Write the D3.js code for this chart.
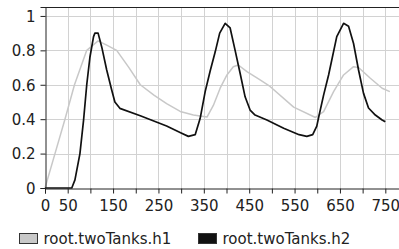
<!DOCTYPE html>
<html>
<head>
<meta charset="utf-8">
<script src="https://cdn.jsdelivr.net/npm/d3@7"></script>
<style>
  body { margin: 0; background: #fff; }
</style>
</head>
<body>
<div id="chart"></div>
<script>
// series values
var h1Time = [0, 22, 44, 65, 92, 117, 136, 158, 185, 210, 240, 268, 298, 327, 357, 371, 386, 401, 415, 426, 445, 474, 496, 548, 596, 614, 636, 658, 680, 691, 717, 743, 760];
var h1Level = [0, 0.2, 0.4, 0.6, 0.8, 0.855, 0.83, 0.8, 0.7, 0.6, 0.54, 0.49, 0.445, 0.424, 0.412, 0.48, 0.58, 0.657, 0.705, 0.715, 0.676, 0.628, 0.59, 0.47, 0.41, 0.444, 0.56, 0.657, 0.705, 0.7, 0.638, 0.58, 0.56];

var h2Time = [0, 59, 66, 77, 85, 92, 99, 107, 110, 117, 125, 136, 147, 154, 165, 210, 268, 300, 316, 331, 342, 353, 364, 375, 385, 397, 408, 419, 430, 441, 452, 463, 489, 526, 560, 577, 590, 599, 603, 614, 625, 643, 658, 669, 680, 691, 702, 713, 728, 743, 750];
var h2Level = [0, 0, 0.047, 0.2, 0.395, 0.6, 0.76, 0.88, 0.9, 0.9, 0.82, 0.686, 0.57, 0.5, 0.463, 0.42, 0.36, 0.32, 0.3, 0.31, 0.405, 0.56, 0.68, 0.79, 0.9, 0.957, 0.93, 0.8, 0.667, 0.53, 0.453, 0.424, 0.395, 0.347, 0.31, 0.3, 0.31, 0.36, 0.41, 0.54, 0.657, 0.88, 0.957, 0.94, 0.84, 0.686, 0.55, 0.465, 0.424, 0.395, 0.385];

var xTicks = d3.range(0, 801, 50);
var xLabels = [0, 50, 150, 250, 350, 450, 550, 650, 750];
var yTicks = [0, 0.2, 0.4, 0.6, 0.8, 1];
var seriesNames = ['root.twoTanks.h1', 'root.twoTanks.h2'];
var seriesColors = ['#c8c8c8', '#111'];

var attrs = {
  svgWidth: 399,
  svgHeight: 249,
  marginLeft: 45,
  marginTop: 7,
  plotBottom: 188,
  plotRight: 408,
  fontFamily: '"DejaVu Sans", Verdana, sans-serif',
  fontSize: 15
};

var x = d3.scaleLinear().domain([0, 800]).range([attrs.marginLeft, attrs.plotRight]);
var y = d3.scaleLinear().domain([0, 1.052]).range([attrs.plotBottom, attrs.marginTop]);

var svg = d3.select('#chart')
  .append('svg')
  .attr('width', attrs.svgWidth)
  .attr('height', attrs.svgHeight)
  .attr('font-family', attrs.fontFamily)
  .attr('font-size', attrs.fontSize);

// grid
var grid = svg.append('g').attr('stroke', '#d2d2d2').attr('stroke-width', 1);
grid.selectAll('.vgrid')
  .data(xTicks.slice(1))
  .enter()
  .append('line')
  .attr('x1', d => Math.round(x(d)) + 0.5)
  .attr('x2', d => Math.round(x(d)) + 0.5)
  .attr('y1', attrs.marginTop)
  .attr('y2', attrs.plotBottom);
grid.selectAll('.hgrid')
  .data(yTicks.slice(1))
  .enter()
  .append('line')
  .attr('y1', d => Math.round(y(d)) + 0.5)
  .attr('y2', d => Math.round(y(d)) + 0.5)
  .attr('x1', attrs.marginLeft)
  .attr('x2', attrs.plotRight);

// series lines
var series = [
  h1Time.map((t, i) => [t, h1Level[i]]),
  h2Time.map((t, i) => [t, h2Level[i]])
];
var line = d3.line().x(d => x(d[0])).y(d => y(d[1]));

svg.selectAll('.series')
  .data(series)
  .enter()
  .append('path')
  .attr('class', 'series')
  .attr('d', line)
  .attr('fill', 'none')
  .attr('stroke', (d, i) => seriesColors[i])
  .attr('stroke-width', (d, i) => i === 0 ? 1.5 : 1.7)
  .attr('stroke-linejoin', 'round');

// frame: top border
svg.append('line')
  .attr('x1', attrs.marginLeft).attr('x2', attrs.plotRight)
  .attr('y1', attrs.marginTop + 0.5).attr('y2', attrs.marginTop + 0.5)
  .attr('stroke', '#222');

// axes
var xAxis = svg.append('g')
  .attr('transform', 'translate(0,' + (attrs.plotBottom + 0.5) + ')')
  .call(d3.axisBottom(x).tickValues(xTicks).tickSize(5).tickFormat(d => xLabels.indexOf(d) >= 0 ? d : ''));
var yAxis = svg.append('g')
  .attr('transform', 'translate(' + (attrs.marginLeft + 0.5) + ',0)')
  .call(d3.axisLeft(y).tickValues(yTicks).tickSize(5).tickPadding(5).tickFormat(d => String(d)));

[xAxis, yAxis].forEach(axis => {
  axis.attr('font-family', attrs.fontFamily).attr('font-size', attrs.fontSize);
  axis.select('.domain').attr('stroke', '#222');
  axis.selectAll('.tick line').attr('stroke', '#222');
  axis.selectAll('.tick text').attr('fill', '#222');
});
xAxis.selectAll('.tick text').attr('dy', '0.71em').attr('y', 12);
yAxis.selectAll('.tick text').attr('dy', '0.36em');

// legend
var legend = svg.selectAll('.legend')
  .data(seriesNames)
  .enter()
  .append('g')
  .attr('class', 'legend')
  .attr('transform', (d, i) => 'translate(' + (i === 0 ? 19.5 : 198.5) + ',233.5)');

legend.append('rect')
  .attr('width', 18)
  .attr('height', 10)
  .attr('fill', (d, i) => seriesColors[i])
  .attr('stroke', '#333');

legend.append('text')
  .attr('x', 24)
  .attr('y', 10.5)
  .attr('fill', '#222')
  .text(d => d);
</script>
</body>
</html>
